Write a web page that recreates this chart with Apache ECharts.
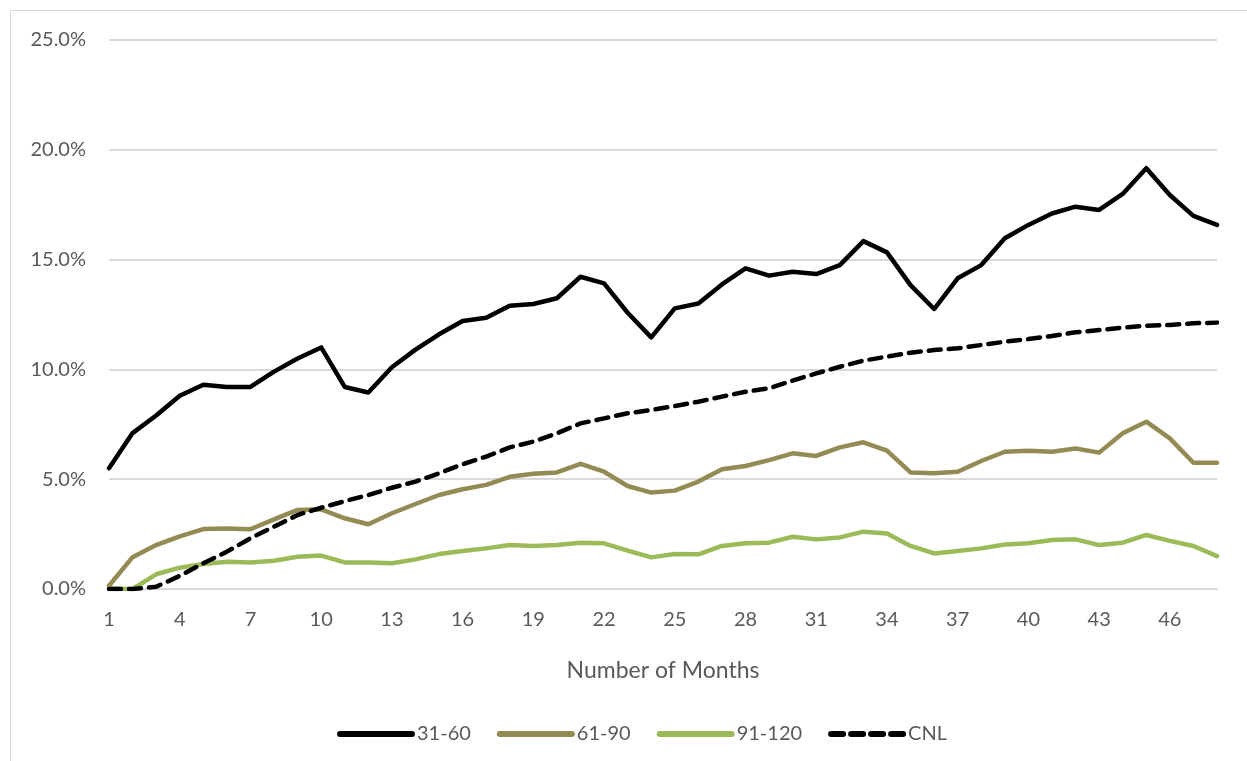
<!DOCTYPE html>
<html>
<head>
<meta charset="utf-8">
<script src="https://cdn.jsdelivr.net/npm/echarts@6/dist/echarts.min.js"></script>
<style>
  html, body { margin: 0; padding: 0; background: #fff; }
  #frame { position: absolute; left: 10px; top: 10px; width: 1300px; height: 800px;
           border-left: 1px solid #d9d9d9; border-top: 1px solid #d9d9d9; }
  #chart { position: absolute; left: 0; top: 0; width: 1247px; height: 761px; }
</style>
</head>
<body>
<div id="frame"></div>
<div id="chart"></div>
<script>
var months = [];
for (var m = 1; m <= 48; m++) months.push(String(m));

var d31_60 = [5.5, 7.1, 7.9, 8.8, 9.3, 9.2, 9.2, 9.9, 10.5, 11.0, 9.2, 8.95,
  10.1, 10.9, 11.6, 12.2, 12.35, 12.9, 12.98, 13.24, 14.22, 13.92, 12.58, 11.46,
  12.78, 13.0, 13.87, 14.6, 14.27, 14.45, 14.34, 14.75, 15.84, 15.33, 13.84, 12.75,
  14.15, 14.75, 15.97, 16.58, 17.1, 17.41, 17.26, 17.99, 19.16, 17.94, 16.99, 16.58];

var d61_90 = [0.15, 1.45, 2.0, 2.4, 2.73, 2.76, 2.72, 3.17, 3.6, 3.63, 3.22, 2.95,
  3.45, 3.87, 4.28, 4.54, 4.74, 5.11, 5.25, 5.31, 5.7, 5.34, 4.69, 4.39,
  4.48, 4.89, 5.45, 5.6, 5.87, 6.18, 6.06, 6.45, 6.68, 6.3, 5.31, 5.27,
  5.34, 5.83, 6.25, 6.3, 6.25, 6.4, 6.21, 7.09, 7.62, 6.86, 5.75, 5.75];

var d91_120 = [0.02, 0.0, 0.67, 0.97, 1.14, 1.24, 1.21, 1.29, 1.47, 1.52, 1.21, 1.21,
  1.17, 1.35, 1.59, 1.73, 1.85, 2.0, 1.96, 2.0, 2.11, 2.08, 1.75, 1.44,
  1.59, 1.58, 1.96, 2.08, 2.11, 2.38, 2.26, 2.35, 2.61, 2.53, 1.96, 1.62,
  1.73, 1.85, 2.03, 2.08, 2.23, 2.26, 2.0, 2.11, 2.46, 2.19, 1.96, 1.5];

var dCNL = [0.0, 0.0, 0.1, 0.6, 1.17, 1.7, 2.31, 2.84, 3.37, 3.7, 4.0, 4.28,
  4.61, 4.89, 5.27, 5.68, 6.03, 6.45, 6.71, 7.09, 7.54, 7.77, 8.0, 8.15,
  8.33, 8.53, 8.76, 8.98, 9.14, 9.49, 9.82, 10.12, 10.4, 10.58, 10.76, 10.88,
  10.96, 11.11, 11.26, 11.38, 11.52, 11.69, 11.79, 11.9, 11.99, 12.02, 12.1, 12.13];

var seriesNames = ['31-60', '61-90', '91-120', 'CNL'];

var chart = echarts.init(document.getElementById('chart'));
var font = 'Lato, "Open Sans", sans-serif';

function lineSeries(name, data, color, dash) {
  return {
    name: name,
    type: 'line',
    data: data,
    symbol: 'none',
    animation: false,
    lineStyle: { color: color, width: 4.5, type: dash || 'solid', cap: 'round', join: 'round' },
    itemStyle: { color: color }
  };
}

var option = {
  grid: { left: 109, right: 30, top: 40, bottom: 172 },
  legend: {
    data: seriesNames,
    top: 719,
    left: 332,
    itemWidth: 72,
    itemHeight: 12,
    itemGap: 26,
    itemStyle: { opacity: 0 },
    lineStyle: { width: 6 },
    textStyle: { color: '#595959', fontSize: 20, fontFamily: font }
  },
  xAxis: {
    type: 'category',
    data: months,
    boundaryGap: false,
    name: 'Number of Months',
    nameLocation: 'middle',
    nameGap: 70,
    nameTextStyle: { color: '#595959', fontSize: 23, fontFamily: font },
    axisLine: { lineStyle: { color: '#d9d9d9', width: 2 } },
    axisTick: { show: false },
    axisLabel: { interval: 2, color: '#595959', fontSize: 20, fontFamily: font, margin: 21 }
  },
  yAxis: {
    type: 'value',
    min: 0,
    max: 25,
    interval: 5,
    axisLine: { show: false },
    axisTick: { show: false },
    splitLine: { lineStyle: { color: '#d9d9d9', width: 2 } },
    axisLabel: {
      color: '#595959', fontSize: 20, fontFamily: font, margin: 23,
      formatter: function (v) { return v.toFixed(1) + '%'; }
    }
  },
  series: [
    lineSeries('31-60', d31_60, '#000000'),
    lineSeries('61-90', d61_90, '#948a54'),
    lineSeries('91-120', d91_120, '#9bbb59'),
    lineSeries('CNL', dCNL, '#000000', [12, 8])
  ]
};
chart.setOption(option);
</script>
</body>
</html>
